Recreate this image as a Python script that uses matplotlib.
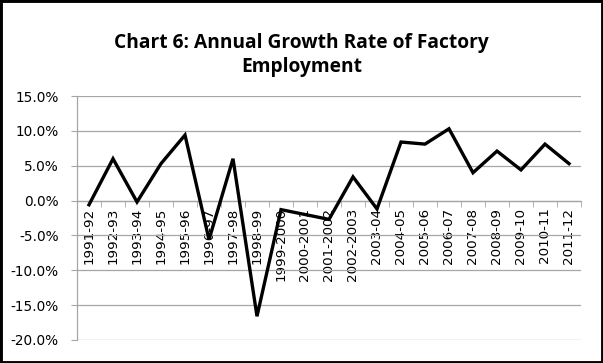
import matplotlib
matplotlib.use("Agg")
import matplotlib.pyplot as plt
from matplotlib.patches import Rectangle
from matplotlib.ticker import FuncFormatter, FixedLocator

years = ["1991-92", "1992-93", "1993-94", "1994-95", "1995-96", "1996-97", "1997-98",
         "1998-99", "1999-2000", "2000-2001", "2001-2002", "2002-2003", "2003-04",
         "2004-05", "2005-06", "2006-07", "2007-08", "2008-09", "2009-10", "2010-11",
         "2011-12"]
growth = [-0.6, 6.0, -0.2, 5.3, 9.4, -5.6, 6.0, -16.6, -1.3, -2.0, -2.7, 3.4, -1.2,
          8.4, 8.1, 10.3, 4.0, 7.1, 4.4, 8.1, 5.3]
yticks = [15, 10, 5, 0, -5, -10, -15, -20]

GRID = "#a6a6a6"

fig = plt.figure(figsize=(6.03, 3.63), dpi=100)
ax = fig.add_axes([0.1277, 0.0634, 0.8358, 0.6721])

x = list(range(len(years)))
ax.plot(x, growth, color="black", lw=2.4, solid_joinstyle="miter", zorder=3)

ax.set_xlim(-0.5, len(years) - 0.5)
ax.set_ylim(-20, 15)
ax.set_yticks(yticks)
ax.yaxis.set_major_formatter(FuncFormatter(lambda v, p: f"{v:.1f}%"))
ax.yaxis.grid(True, color=GRID, lw=0.9)
ax.set_axisbelow(True)

ax.set_xticks(x)
ax.set_xticklabels(years)
ax.xaxis.set_minor_locator(FixedLocator([i - 0.5 for i in range(len(years) + 1)]))
ax.tick_params(axis="x", which="major", length=0, pad=5, labelrotation=90, labelsize=9.7)
ax.tick_params(axis="x", which="minor", length=4, color=GRID, direction="out")
ax.tick_params(axis="y", length=4, color=GRID, labelsize=9.8, pad=9)

ax.spines["bottom"].set_position(("data", 0))
for s in ("top", "right"):
    ax.spines[s].set_visible(False)
for s in ("left", "bottom"):
    ax.spines[s].set_color(GRID)
    ax.spines[s].set_linewidth(0.9)

fig.text(0.5, 0.848, "Chart 6: Annual Growth Rate of Factory\nEmployment",
         ha="center", va="center", fontsize=13.8, fontweight="bold",
         family="Open Sans", linespacing=1.3)

fig.patches.append(Rectangle((0, 0), 1, 1, transform=fig.transFigure, fill=False,
                             ec="black", lw=3.5))

fig.savefig("out.png", dpi=100)
